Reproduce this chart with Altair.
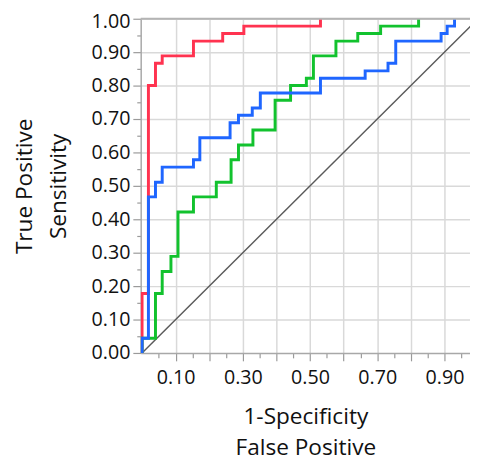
import altair as alt
import pandas as pd

# ROC curves (1-Specificity, Sensitivity) corner points, step-after
red_fpr = [0.0, 0.0, 0.019, 0.040, 0.060, 0.153, 0.240, 0.303, 0.531]
red_tpr = [0.0, 0.178, 0.800, 0.867, 0.889, 0.933, 0.956, 0.978, 1.0]

green_fpr = [0.0, 0.0, 0.040, 0.060, 0.086, 0.107, 0.153, 0.221, 0.265, 0.287,
             0.330, 0.396, 0.442, 0.489, 0.510, 0.577, 0.642, 0.710, 0.823]
green_tpr = [0.0, 0.044, 0.178, 0.244, 0.289, 0.422, 0.467, 0.511, 0.578, 0.622,
             0.667, 0.756, 0.800, 0.822, 0.889, 0.933, 0.956, 0.978, 1.0]

blue_fpr = [0.0, 0.0, 0.019, 0.040, 0.060, 0.153, 0.172, 0.262, 0.287, 0.328,
            0.352, 0.531, 0.664, 0.732, 0.755, 0.890, 0.908, 0.930]
blue_tpr = [0.0, 0.044, 0.467, 0.511, 0.556, 0.578, 0.644, 0.689, 0.711, 0.733,
            0.778, 0.822, 0.844, 0.867, 0.933, 0.956, 0.978, 1.0]

diag_fpr = [0.0, 1.0]
diag_tpr = [0.0, 1.0]

x_tick_values = [0.05, 0.10, 0.15, 0.20, 0.25, 0.30, 0.35, 0.40, 0.45, 0.50,
                 0.55, 0.60, 0.65, 0.70, 0.75, 0.80, 0.85, 0.90, 0.95]
y_tick_values = [0.00, 0.05, 0.10, 0.15, 0.20, 0.25, 0.30, 0.35, 0.40, 0.45, 0.50,
                 0.55, 0.60, 0.65, 0.70, 0.75, 0.80, 0.85, 0.90, 0.95, 1.00]

x_title = ["1-Specificity", "False Positive"]
y_title = ["True Positive", "Sensitivity"]

RED = "#FF3350"
GREEN = "#12C22E"
BLUE = "#1F66FF"

major = "round(datum.value*100) % 10 == 0"

x_scale = alt.Scale(domain=[-0.004, 0.976], nice=False, zero=False)
y_scale = alt.Scale(domain=[0, 1], nice=False)

x_axis = alt.Axis(
    values=x_tick_values,
    labelExpr="round(datum.value*100) % 20 == 10 ? format(datum.value, '.2f') : ''",
    tickSize={"condition": {"test": major, "value": 8}, "value": 5},
    gridOpacity={"condition": {"test": major, "value": 1}, "value": 0},
    labelPadding=7,
    titlePadding=19,
    titleLineHeight=31,
)
y_axis = alt.Axis(
    values=y_tick_values,
    labelExpr=major + " ? format(datum.value, '.2f') : ''",
    labelOffset={"condition": {"test": "datum.value == 1", "value": 3}, "value": 0},
    tickSize={"condition": {"test": major, "value": 8}, "value": 4},
    gridOpacity={"condition": {"test": major + " && datum.value > 0", "value": 1}, "value": 0},
    labelPadding=3,
    titlePadding=21,
    titleLineHeight=35,
)


def make_df(fpr, tpr):
    return pd.DataFrame({"fpr": fpr, "tpr": tpr, "i": list(range(len(fpr)))})


def enc(chart):
    return chart.encode(
        x=alt.X("fpr:Q", scale=x_scale, axis=x_axis, title=x_title),
        y=alt.Y("tpr:Q", scale=y_scale, axis=y_axis, title=y_title),
        order=alt.Order("i:Q"),
    )


diag = enc(alt.Chart(make_df(diag_fpr, diag_tpr)).mark_line(
    color="#5a5a5a", strokeWidth=1.5, clip=True))


def curve(fpr, tpr, color):
    return enc(alt.Chart(make_df(fpr, tpr)).mark_line(
        interpolate="step-after", color=color, strokeWidth=3, clip=True))


top_border = alt.Chart(pd.DataFrame({"t": [1.0]})).mark_rule(
    color="#b4b4b4", strokeWidth=2).encode(y=alt.Y("t:Q", scale=y_scale, axis=y_axis, title=y_title))

chart = alt.layer(
    diag,
    curve(red_fpr, red_tpr, RED),
    curve(green_fpr, green_tpr, GREEN),
    curve(blue_fpr, blue_tpr, BLUE),
    top_border,
).properties(
    width=335,
    height=340,
    autosize=alt.AutoSizeParams(type="none"),
    padding={"left": 135, "top": 7, "right": 0, "bottom": 108},
).configure_view(
    strokeWidth=0
).configure_axis(
    labelFont="Open Sans",
    labelFontSize=20,
    labelColor="#111111",
    titleFont="Open Sans",
    titleFontSize=23,
    titleFontWeight="normal",
    titleColor="#111111",
    gridColor="#d9d9d9",
    gridWidth=1.5,
    tickColor="#9a9a9a",
    tickWidth=1.2,
    domainColor="#a8a8a8",
    domainWidth=1.5,
)

chart.save("out.html", embed_options={"renderer": "svg", "actions": False})
